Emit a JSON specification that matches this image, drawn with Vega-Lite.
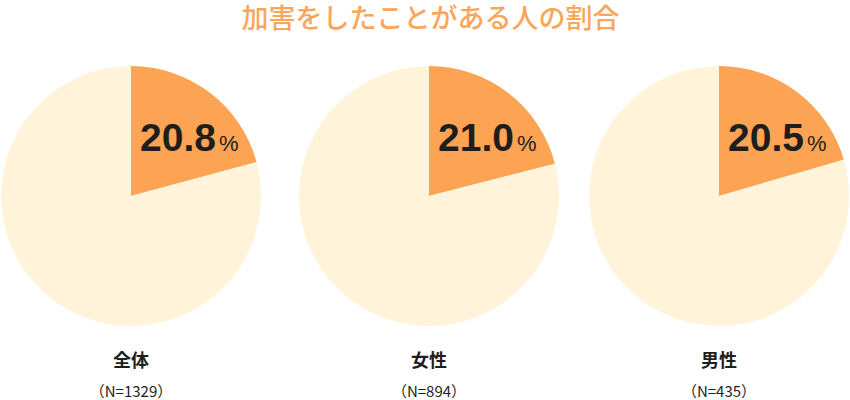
{
  "$schema": "https://vega.github.io/schema/vega-lite/v6.json",
  "padding": {"top": 6, "left": 0, "right": 0, "bottom": 0},
  "background": "white",
  "bounds": "flush",
  "title": {"text": "加害をしたことがある人の割合", "color": "#FAA65A", "fontSize": 27, "font": "Noto Sans CJK JP", "fontWeight": 500, "anchor": "middle", "offset": 7, "dx": 6},
  "data": {"values": [
    {"group": "全体", "n": "（N=1329）", "category": "あり", "value": 20.8},
    {"group": "全体", "n": "（N=1329）", "category": "なし", "value": 79.2},
    {"group": "女性", "n": "（N=894）", "category": "あり", "value": 21.0},
    {"group": "女性", "n": "（N=894）", "category": "なし", "value": 79.0},
    {"group": "男性", "n": "（N=435）", "category": "あり", "value": 20.5},
    {"group": "男性", "n": "（N=435）", "category": "なし", "value": 79.5}
  ]},
  "spacing": 20,
  "hconcat": [
    {
      "width": 262, "height": 310,
      "transform": [{"filter": "datum.group === '全体'"}],
      "title": {"text": "全体", "subtitle": "（N=1329）", "orient": "bottom", "anchor": "middle", "offset": 2},
      "layer": [
        {"mark": {"type": "arc", "outerRadius": 130}, "encoding": {"theta": {"field": "value", "type": "quantitative", "stack": true}, "color": {"field": "category", "type": "nominal", "scale": {"domain": ["あり", "なし"], "range": ["#FCA454", "#FFF4DA"]}, "legend": null}, "order": {"field": "category", "sort": "ascending"}}},
        {"transform": [{"filter": "datum.category === 'あり'"}], "mark": {"type": "text", "align": "right", "baseline": "alphabetic", "fontSize": 39, "fontWeight": "bold", "font": "Liberation Sans", "color": "#1E1E1E", "dx": 85, "dy": -45}, "encoding": {"text": {"field": "value", "type": "quantitative", "format": ".1f"}}},
        {"transform": [{"filter": "datum.category === 'あり'"}], "mark": {"type": "text", "text": "%", "align": "left", "baseline": "alphabetic", "fontSize": 22, "font": "Liberation Sans", "color": "#1E1E1E", "dx": 88, "dy": -45}, "encoding": {}}
      ]
    },
    {
      "width": 294, "height": 310,
      "transform": [{"filter": "datum.group === '女性'"}],
      "title": {"text": "女性", "subtitle": "（N=894）", "orient": "bottom", "anchor": "middle", "offset": 2},
      "layer": [
        {"mark": {"type": "arc", "outerRadius": 130}, "encoding": {"theta": {"field": "value", "type": "quantitative", "stack": true}, "color": {"field": "category", "type": "nominal", "scale": {"domain": ["あり", "なし"], "range": ["#FCA454", "#FFF4DA"]}, "legend": null}, "order": {"field": "category", "sort": "ascending"}}},
        {"transform": [{"filter": "datum.category === 'あり'"}], "mark": {"type": "text", "align": "right", "baseline": "alphabetic", "fontSize": 39, "fontWeight": "bold", "font": "Liberation Sans", "color": "#1E1E1E", "dx": 85, "dy": -45}, "encoding": {"text": {"field": "value", "type": "quantitative", "format": ".1f"}}},
        {"transform": [{"filter": "datum.category === 'あり'"}], "mark": {"type": "text", "text": "%", "align": "left", "baseline": "alphabetic", "fontSize": 22, "font": "Liberation Sans", "color": "#1E1E1E", "dx": 88, "dy": -45}, "encoding": {}}
      ]
    },
    {
      "width": 246, "height": 310,
      "transform": [{"filter": "datum.group === '男性'"}],
      "title": {"text": "男性", "subtitle": "（N=435）", "orient": "bottom", "anchor": "middle", "offset": 2},
      "layer": [
        {"mark": {"type": "arc", "outerRadius": 130}, "encoding": {"theta": {"field": "value", "type": "quantitative", "stack": true}, "color": {"field": "category", "type": "nominal", "scale": {"domain": ["あり", "なし"], "range": ["#FCA454", "#FFF4DA"]}, "legend": null}, "order": {"field": "category", "sort": "ascending"}}},
        {"transform": [{"filter": "datum.category === 'あり'"}], "mark": {"type": "text", "align": "right", "baseline": "alphabetic", "fontSize": 39, "fontWeight": "bold", "font": "Liberation Sans", "color": "#1E1E1E", "dx": 85, "dy": -45}, "encoding": {"text": {"field": "value", "type": "quantitative", "format": ".1f"}}},
        {"transform": [{"filter": "datum.category === 'あり'"}], "mark": {"type": "text", "text": "%", "align": "left", "baseline": "alphabetic", "fontSize": 22, "font": "Liberation Sans", "color": "#1E1E1E", "dx": 88, "dy": -45}, "encoding": {}}
      ]
    }
  ],
  "config": {
    "view": {"stroke": null},
    "title": {"font": "Noto Sans CJK JP", "fontSize": 18, "fontWeight": "bold", "color": "#1E1E1E", "subtitleFont": "Noto Sans CJK JP", "subtitleFontSize": 15, "subtitleColor": "#1E1E1E", "subtitlePadding": 14}
  }
}
